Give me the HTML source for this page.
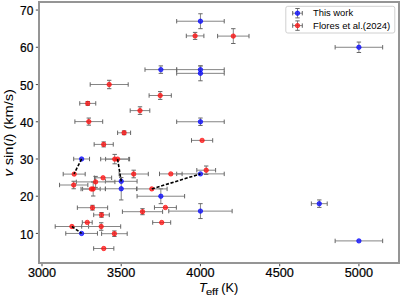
<!DOCTYPE html>
<html><head><meta charset="utf-8"><style>
html,body{margin:0;padding:0;background:#fff;}
svg{display:block;}
text{font-family:"Liberation Sans",sans-serif;fill:#000;stroke:#000;stroke-width:0.22px;}
</style></head><body>
<svg width="400" height="297" viewBox="0 0 400 297" font-size="12.5">
<rect width="400" height="297" fill="#fff"/>
<g>
<line x1="176.68" y1="21.22" x2="224.22" y2="21.22" stroke="#858585" stroke-width="1.0"/>
<line x1="176.68" y1="19.02" x2="176.68" y2="23.42" stroke="#666666" stroke-width="1.0"/>
<line x1="224.22" y1="19.02" x2="224.22" y2="23.42" stroke="#666666" stroke-width="1.0"/>
<line x1="200.45" y1="13.78" x2="200.45" y2="28.67" stroke="#858585" stroke-width="1.0"/>
<line x1="198.25" y1="13.78" x2="202.65" y2="13.78" stroke="#666666" stroke-width="1.0"/>
<line x1="198.25" y1="28.67" x2="202.65" y2="28.67" stroke="#666666" stroke-width="1.0"/>
<line x1="335.13" y1="47.28" x2="382.67" y2="47.28" stroke="#858585" stroke-width="1.0"/>
<line x1="335.13" y1="45.08" x2="335.13" y2="49.48" stroke="#666666" stroke-width="1.0"/>
<line x1="382.67" y1="45.08" x2="382.67" y2="49.48" stroke="#666666" stroke-width="1.0"/>
<line x1="358.9" y1="42.07" x2="358.9" y2="52.5" stroke="#858585" stroke-width="1.0"/>
<line x1="356.7" y1="42.07" x2="361.1" y2="42.07" stroke="#666666" stroke-width="1.0"/>
<line x1="356.7" y1="52.5" x2="361.1" y2="52.5" stroke="#666666" stroke-width="1.0"/>
<line x1="144.99" y1="69.62" x2="176.68" y2="69.62" stroke="#858585" stroke-width="1.0"/>
<line x1="144.99" y1="67.42" x2="144.99" y2="71.82" stroke="#666666" stroke-width="1.0"/>
<line x1="176.68" y1="67.42" x2="176.68" y2="71.82" stroke="#666666" stroke-width="1.0"/>
<line x1="160.84" y1="65.9" x2="160.84" y2="73.35" stroke="#858585" stroke-width="1.0"/>
<line x1="158.64" y1="65.9" x2="163.04" y2="65.9" stroke="#666666" stroke-width="1.0"/>
<line x1="158.64" y1="73.35" x2="163.04" y2="73.35" stroke="#666666" stroke-width="1.0"/>
<line x1="176.68" y1="69.62" x2="224.22" y2="69.62" stroke="#858585" stroke-width="1.0"/>
<line x1="176.68" y1="67.42" x2="176.68" y2="71.82" stroke="#666666" stroke-width="1.0"/>
<line x1="224.22" y1="67.42" x2="224.22" y2="71.82" stroke="#666666" stroke-width="1.0"/>
<line x1="200.45" y1="65.9" x2="200.45" y2="73.35" stroke="#858585" stroke-width="1.0"/>
<line x1="198.25" y1="65.9" x2="202.65" y2="65.9" stroke="#666666" stroke-width="1.0"/>
<line x1="198.25" y1="73.35" x2="202.65" y2="73.35" stroke="#666666" stroke-width="1.0"/>
<line x1="176.68" y1="73.35" x2="224.22" y2="73.35" stroke="#858585" stroke-width="1.0"/>
<line x1="176.68" y1="71.15" x2="176.68" y2="75.55" stroke="#666666" stroke-width="1.0"/>
<line x1="224.22" y1="71.15" x2="224.22" y2="75.55" stroke="#666666" stroke-width="1.0"/>
<line x1="200.45" y1="65.9" x2="200.45" y2="80.79" stroke="#858585" stroke-width="1.0"/>
<line x1="198.25" y1="65.9" x2="202.65" y2="65.9" stroke="#666666" stroke-width="1.0"/>
<line x1="198.25" y1="80.79" x2="202.65" y2="80.79" stroke="#666666" stroke-width="1.0"/>
<line x1="176.68" y1="121.75" x2="224.22" y2="121.75" stroke="#858585" stroke-width="1.0"/>
<line x1="176.68" y1="119.55" x2="176.68" y2="123.95" stroke="#666666" stroke-width="1.0"/>
<line x1="224.22" y1="119.55" x2="224.22" y2="123.95" stroke="#666666" stroke-width="1.0"/>
<line x1="200.45" y1="118.03" x2="200.45" y2="125.47" stroke="#858585" stroke-width="1.0"/>
<line x1="198.25" y1="118.03" x2="202.65" y2="118.03" stroke="#666666" stroke-width="1.0"/>
<line x1="198.25" y1="125.47" x2="202.65" y2="125.47" stroke="#666666" stroke-width="1.0"/>
<line x1="73.69" y1="158.98" x2="89.54" y2="158.98" stroke="#858585" stroke-width="1.0"/>
<line x1="73.69" y1="156.78" x2="73.69" y2="161.18" stroke="#666666" stroke-width="1.0"/>
<line x1="89.54" y1="156.78" x2="89.54" y2="161.18" stroke="#666666" stroke-width="1.0"/>
<line x1="105.38" y1="181.32" x2="137.07" y2="181.32" stroke="#858585" stroke-width="1.0"/>
<line x1="105.38" y1="179.12" x2="105.38" y2="183.52" stroke="#666666" stroke-width="1.0"/>
<line x1="137.07" y1="179.12" x2="137.07" y2="183.52" stroke="#666666" stroke-width="1.0"/>
<line x1="105.38" y1="188.77" x2="137.07" y2="188.77" stroke="#858585" stroke-width="1.0"/>
<line x1="105.38" y1="186.57" x2="105.38" y2="190.97" stroke="#666666" stroke-width="1.0"/>
<line x1="137.07" y1="186.57" x2="137.07" y2="190.97" stroke="#666666" stroke-width="1.0"/>
<line x1="121.23" y1="177.6" x2="121.23" y2="199.94" stroke="#858585" stroke-width="1.0"/>
<line x1="119.03" y1="177.6" x2="123.43" y2="177.6" stroke="#666666" stroke-width="1.0"/>
<line x1="119.03" y1="199.94" x2="123.43" y2="199.94" stroke="#666666" stroke-width="1.0"/>
<line x1="176.68" y1="173.88" x2="224.22" y2="173.88" stroke="#858585" stroke-width="1.0"/>
<line x1="176.68" y1="171.68" x2="176.68" y2="176.08" stroke="#666666" stroke-width="1.0"/>
<line x1="224.22" y1="171.68" x2="224.22" y2="176.08" stroke="#666666" stroke-width="1.0"/>
<line x1="137.07" y1="196.22" x2="184.61" y2="196.22" stroke="#858585" stroke-width="1.0"/>
<line x1="137.07" y1="194.02" x2="137.07" y2="198.42" stroke="#666666" stroke-width="1.0"/>
<line x1="184.61" y1="194.02" x2="184.61" y2="198.42" stroke="#666666" stroke-width="1.0"/>
<line x1="160.84" y1="188.77" x2="160.84" y2="203.66" stroke="#858585" stroke-width="1.0"/>
<line x1="158.64" y1="188.77" x2="163.04" y2="188.77" stroke="#666666" stroke-width="1.0"/>
<line x1="158.64" y1="203.66" x2="163.04" y2="203.66" stroke="#666666" stroke-width="1.0"/>
<line x1="311.37" y1="203.66" x2="327.21" y2="203.66" stroke="#858585" stroke-width="1.0"/>
<line x1="311.37" y1="201.46" x2="311.37" y2="205.86" stroke="#666666" stroke-width="1.0"/>
<line x1="327.21" y1="201.46" x2="327.21" y2="205.86" stroke="#666666" stroke-width="1.0"/>
<line x1="319.29" y1="199.94" x2="319.29" y2="207.39" stroke="#858585" stroke-width="1.0"/>
<line x1="317.09" y1="199.94" x2="321.49" y2="199.94" stroke="#666666" stroke-width="1.0"/>
<line x1="317.09" y1="207.39" x2="321.49" y2="207.39" stroke="#666666" stroke-width="1.0"/>
<line x1="168.76" y1="211.11" x2="232.14" y2="211.11" stroke="#858585" stroke-width="1.0"/>
<line x1="168.76" y1="208.91" x2="168.76" y2="213.31" stroke="#666666" stroke-width="1.0"/>
<line x1="232.14" y1="208.91" x2="232.14" y2="213.31" stroke="#666666" stroke-width="1.0"/>
<line x1="200.45" y1="203.66" x2="200.45" y2="218.56" stroke="#858585" stroke-width="1.0"/>
<line x1="198.25" y1="203.66" x2="202.65" y2="203.66" stroke="#666666" stroke-width="1.0"/>
<line x1="198.25" y1="218.56" x2="202.65" y2="218.56" stroke="#666666" stroke-width="1.0"/>
<line x1="65.77" y1="233.45" x2="97.46" y2="233.45" stroke="#858585" stroke-width="1.0"/>
<line x1="65.77" y1="231.25" x2="65.77" y2="235.65" stroke="#666666" stroke-width="1.0"/>
<line x1="97.46" y1="231.25" x2="97.46" y2="235.65" stroke="#666666" stroke-width="1.0"/>
<line x1="335.13" y1="240.9" x2="382.67" y2="240.9" stroke="#858585" stroke-width="1.0"/>
<line x1="335.13" y1="238.7" x2="335.13" y2="243.1" stroke="#666666" stroke-width="1.0"/>
<line x1="382.67" y1="238.7" x2="382.67" y2="243.1" stroke="#666666" stroke-width="1.0"/>
<circle cx="200.45" cy="21.22" r="2.2" fill="#0a0aff" fill-opacity="0.74" stroke="#0a0aff" stroke-opacity="0.8" stroke-width="0.9"/>
<circle cx="358.9" cy="47.28" r="2.2" fill="#0a0aff" fill-opacity="0.74" stroke="#0a0aff" stroke-opacity="0.8" stroke-width="0.9"/>
<circle cx="160.84" cy="69.62" r="2.2" fill="#0a0aff" fill-opacity="0.74" stroke="#0a0aff" stroke-opacity="0.8" stroke-width="0.9"/>
<circle cx="200.45" cy="69.62" r="2.2" fill="#0a0aff" fill-opacity="0.74" stroke="#0a0aff" stroke-opacity="0.8" stroke-width="0.9"/>
<circle cx="200.45" cy="73.35" r="2.2" fill="#0a0aff" fill-opacity="0.74" stroke="#0a0aff" stroke-opacity="0.8" stroke-width="0.9"/>
<circle cx="200.45" cy="121.75" r="2.2" fill="#0a0aff" fill-opacity="0.74" stroke="#0a0aff" stroke-opacity="0.8" stroke-width="0.9"/>
<circle cx="81.61" cy="158.98" r="2.2" fill="#0a0aff" fill-opacity="0.74" stroke="#0a0aff" stroke-opacity="0.8" stroke-width="0.9"/>
<circle cx="121.23" cy="181.32" r="2.2" fill="#0a0aff" fill-opacity="0.74" stroke="#0a0aff" stroke-opacity="0.8" stroke-width="0.9"/>
<circle cx="121.23" cy="188.77" r="2.2" fill="#0a0aff" fill-opacity="0.74" stroke="#0a0aff" stroke-opacity="0.8" stroke-width="0.9"/>
<circle cx="200.45" cy="173.88" r="2.2" fill="#0a0aff" fill-opacity="0.74" stroke="#0a0aff" stroke-opacity="0.8" stroke-width="0.9"/>
<circle cx="160.84" cy="196.22" r="2.2" fill="#0a0aff" fill-opacity="0.74" stroke="#0a0aff" stroke-opacity="0.8" stroke-width="0.9"/>
<circle cx="319.29" cy="203.66" r="2.2" fill="#0a0aff" fill-opacity="0.74" stroke="#0a0aff" stroke-opacity="0.8" stroke-width="0.9"/>
<circle cx="200.45" cy="211.11" r="2.2" fill="#0a0aff" fill-opacity="0.74" stroke="#0a0aff" stroke-opacity="0.8" stroke-width="0.9"/>
<circle cx="81.61" cy="233.45" r="2.2" fill="#0a0aff" fill-opacity="0.74" stroke="#0a0aff" stroke-opacity="0.8" stroke-width="0.9"/>
<circle cx="358.9" cy="240.9" r="2.2" fill="#0a0aff" fill-opacity="0.74" stroke="#0a0aff" stroke-opacity="0.8" stroke-width="0.9"/>
<line x1="186.3" y1="35.9" x2="203.9" y2="35.9" stroke="#858585" stroke-width="1.0"/>
<line x1="186.3" y1="33.7" x2="186.3" y2="38.1" stroke="#666666" stroke-width="1.0"/>
<line x1="203.9" y1="33.7" x2="203.9" y2="38.1" stroke="#666666" stroke-width="1.0"/>
<line x1="195.1" y1="32.4" x2="195.1" y2="39.4" stroke="#858585" stroke-width="1.0"/>
<line x1="192.9" y1="32.4" x2="197.3" y2="32.4" stroke="#666666" stroke-width="1.0"/>
<line x1="192.9" y1="39.4" x2="197.3" y2="39.4" stroke="#666666" stroke-width="1.0"/>
<line x1="217.6" y1="36.1" x2="249" y2="36.1" stroke="#858585" stroke-width="1.0"/>
<line x1="217.6" y1="33.9" x2="217.6" y2="38.3" stroke="#666666" stroke-width="1.0"/>
<line x1="249" y1="33.9" x2="249" y2="38.3" stroke="#666666" stroke-width="1.0"/>
<line x1="233.3" y1="28.7" x2="233.3" y2="43.5" stroke="#858585" stroke-width="1.0"/>
<line x1="231.1" y1="28.7" x2="235.5" y2="28.7" stroke="#666666" stroke-width="1.0"/>
<line x1="231.1" y1="43.5" x2="235.5" y2="43.5" stroke="#666666" stroke-width="1.0"/>
<line x1="90.2" y1="84.5" x2="128.2" y2="84.5" stroke="#858585" stroke-width="1.0"/>
<line x1="90.2" y1="82.3" x2="90.2" y2="86.7" stroke="#666666" stroke-width="1.0"/>
<line x1="128.2" y1="82.3" x2="128.2" y2="86.7" stroke="#666666" stroke-width="1.0"/>
<line x1="109.2" y1="80.3" x2="109.2" y2="88.7" stroke="#858585" stroke-width="1.0"/>
<line x1="107" y1="80.3" x2="111.4" y2="80.3" stroke="#666666" stroke-width="1.0"/>
<line x1="107" y1="88.7" x2="111.4" y2="88.7" stroke="#666666" stroke-width="1.0"/>
<line x1="149.1" y1="95.5" x2="171.3" y2="95.5" stroke="#858585" stroke-width="1.0"/>
<line x1="149.1" y1="93.3" x2="149.1" y2="97.7" stroke="#666666" stroke-width="1.0"/>
<line x1="171.3" y1="93.3" x2="171.3" y2="97.7" stroke="#666666" stroke-width="1.0"/>
<line x1="160.2" y1="91.6" x2="160.2" y2="99.4" stroke="#858585" stroke-width="1.0"/>
<line x1="158" y1="91.6" x2="162.4" y2="91.6" stroke="#666666" stroke-width="1.0"/>
<line x1="158" y1="99.4" x2="162.4" y2="99.4" stroke="#666666" stroke-width="1.0"/>
<line x1="79.75" y1="103.4" x2="95.75" y2="103.4" stroke="#858585" stroke-width="1.0"/>
<line x1="79.75" y1="101.2" x2="79.75" y2="105.6" stroke="#666666" stroke-width="1.0"/>
<line x1="95.75" y1="101.2" x2="95.75" y2="105.6" stroke="#666666" stroke-width="1.0"/>
<line x1="87.75" y1="101.5" x2="87.75" y2="105.3" stroke="#858585" stroke-width="1.0"/>
<line x1="85.55" y1="101.5" x2="89.95" y2="101.5" stroke="#666666" stroke-width="1.0"/>
<line x1="85.55" y1="105.3" x2="89.95" y2="105.3" stroke="#666666" stroke-width="1.0"/>
<line x1="130.2" y1="110.6" x2="149.8" y2="110.6" stroke="#858585" stroke-width="1.0"/>
<line x1="130.2" y1="108.4" x2="130.2" y2="112.8" stroke="#666666" stroke-width="1.0"/>
<line x1="149.8" y1="108.4" x2="149.8" y2="112.8" stroke="#666666" stroke-width="1.0"/>
<line x1="140" y1="106.8" x2="140" y2="114.4" stroke="#858585" stroke-width="1.0"/>
<line x1="137.8" y1="106.8" x2="142.2" y2="106.8" stroke="#666666" stroke-width="1.0"/>
<line x1="137.8" y1="114.4" x2="142.2" y2="114.4" stroke="#666666" stroke-width="1.0"/>
<line x1="74.9" y1="121.6" x2="102.7" y2="121.6" stroke="#858585" stroke-width="1.0"/>
<line x1="74.9" y1="119.4" x2="74.9" y2="123.8" stroke="#666666" stroke-width="1.0"/>
<line x1="102.7" y1="119.4" x2="102.7" y2="123.8" stroke="#666666" stroke-width="1.0"/>
<line x1="88.8" y1="118.05" x2="88.8" y2="125.15" stroke="#858585" stroke-width="1.0"/>
<line x1="86.6" y1="118.05" x2="91" y2="118.05" stroke="#666666" stroke-width="1.0"/>
<line x1="86.6" y1="125.15" x2="91" y2="125.15" stroke="#666666" stroke-width="1.0"/>
<line x1="117.6" y1="132.8" x2="130.6" y2="132.8" stroke="#858585" stroke-width="1.0"/>
<line x1="117.6" y1="130.6" x2="117.6" y2="135" stroke="#666666" stroke-width="1.0"/>
<line x1="130.6" y1="130.6" x2="130.6" y2="135" stroke="#666666" stroke-width="1.0"/>
<line x1="124.1" y1="130.9" x2="124.1" y2="134.7" stroke="#858585" stroke-width="1.0"/>
<line x1="121.9" y1="130.9" x2="126.3" y2="130.9" stroke="#666666" stroke-width="1.0"/>
<line x1="121.9" y1="134.7" x2="126.3" y2="134.7" stroke="#666666" stroke-width="1.0"/>
<line x1="191.5" y1="140.4" x2="212.7" y2="140.4" stroke="#858585" stroke-width="1.0"/>
<line x1="191.5" y1="138.2" x2="191.5" y2="142.6" stroke="#666666" stroke-width="1.0"/>
<line x1="212.7" y1="138.2" x2="212.7" y2="142.6" stroke="#666666" stroke-width="1.0"/>
<line x1="94.15" y1="144.4" x2="113.25" y2="144.4" stroke="#858585" stroke-width="1.0"/>
<line x1="94.15" y1="142.2" x2="94.15" y2="146.6" stroke="#666666" stroke-width="1.0"/>
<line x1="113.25" y1="142.2" x2="113.25" y2="146.6" stroke="#666666" stroke-width="1.0"/>
<line x1="103.7" y1="141.9" x2="103.7" y2="146.9" stroke="#858585" stroke-width="1.0"/>
<line x1="101.5" y1="141.9" x2="105.9" y2="141.9" stroke="#666666" stroke-width="1.0"/>
<line x1="101.5" y1="146.9" x2="105.9" y2="146.9" stroke="#666666" stroke-width="1.0"/>
<line x1="100.7" y1="159.1" x2="128.7" y2="159.1" stroke="#858585" stroke-width="1.0"/>
<line x1="100.7" y1="156.9" x2="100.7" y2="161.3" stroke="#666666" stroke-width="1.0"/>
<line x1="128.7" y1="156.9" x2="128.7" y2="161.3" stroke="#666666" stroke-width="1.0"/>
<line x1="114.7" y1="154.4" x2="114.7" y2="163.8" stroke="#858585" stroke-width="1.0"/>
<line x1="112.5" y1="154.4" x2="116.9" y2="154.4" stroke="#666666" stroke-width="1.0"/>
<line x1="112.5" y1="163.8" x2="116.9" y2="163.8" stroke="#666666" stroke-width="1.0"/>
<line x1="105.6" y1="159.1" x2="129.6" y2="159.1" stroke="#858585" stroke-width="1.0"/>
<line x1="105.6" y1="156.9" x2="105.6" y2="161.3" stroke="#666666" stroke-width="1.0"/>
<line x1="129.6" y1="156.9" x2="129.6" y2="161.3" stroke="#666666" stroke-width="1.0"/>
<line x1="63.2" y1="174.1" x2="85.2" y2="174.1" stroke="#858585" stroke-width="1.0"/>
<line x1="63.2" y1="171.9" x2="63.2" y2="176.3" stroke="#666666" stroke-width="1.0"/>
<line x1="85.2" y1="171.9" x2="85.2" y2="176.3" stroke="#666666" stroke-width="1.0"/>
<line x1="119.1" y1="174" x2="148.3" y2="174" stroke="#858585" stroke-width="1.0"/>
<line x1="119.1" y1="171.8" x2="119.1" y2="176.2" stroke="#666666" stroke-width="1.0"/>
<line x1="148.3" y1="171.8" x2="148.3" y2="176.2" stroke="#666666" stroke-width="1.0"/>
<line x1="133.7" y1="170.2" x2="133.7" y2="177.8" stroke="#858585" stroke-width="1.0"/>
<line x1="131.5" y1="170.2" x2="135.9" y2="170.2" stroke="#666666" stroke-width="1.0"/>
<line x1="131.5" y1="177.8" x2="135.9" y2="177.8" stroke="#666666" stroke-width="1.0"/>
<line x1="159.5" y1="173.9" x2="182.1" y2="173.9" stroke="#858585" stroke-width="1.0"/>
<line x1="159.5" y1="171.7" x2="159.5" y2="176.1" stroke="#666666" stroke-width="1.0"/>
<line x1="182.1" y1="171.7" x2="182.1" y2="176.1" stroke="#666666" stroke-width="1.0"/>
<line x1="196.8" y1="170.2" x2="215.6" y2="170.2" stroke="#858585" stroke-width="1.0"/>
<line x1="196.8" y1="168" x2="196.8" y2="172.4" stroke="#666666" stroke-width="1.0"/>
<line x1="215.6" y1="168" x2="215.6" y2="172.4" stroke="#666666" stroke-width="1.0"/>
<line x1="206.2" y1="166" x2="206.2" y2="174.4" stroke="#858585" stroke-width="1.0"/>
<line x1="204" y1="166" x2="208.4" y2="166" stroke="#666666" stroke-width="1.0"/>
<line x1="204" y1="174.4" x2="208.4" y2="174.4" stroke="#666666" stroke-width="1.0"/>
<line x1="94.45" y1="177.8" x2="111.65" y2="177.8" stroke="#858585" stroke-width="1.0"/>
<line x1="94.45" y1="175.6" x2="94.45" y2="180" stroke="#666666" stroke-width="1.0"/>
<line x1="111.65" y1="175.6" x2="111.65" y2="180" stroke="#666666" stroke-width="1.0"/>
<line x1="76.3" y1="181.9" x2="114.9" y2="181.9" stroke="#858585" stroke-width="1.0"/>
<line x1="76.3" y1="179.7" x2="76.3" y2="184.1" stroke="#666666" stroke-width="1.0"/>
<line x1="114.9" y1="179.7" x2="114.9" y2="184.1" stroke="#666666" stroke-width="1.0"/>
<line x1="95.6" y1="176.4" x2="95.6" y2="187.4" stroke="#858585" stroke-width="1.0"/>
<line x1="93.4" y1="176.4" x2="97.8" y2="176.4" stroke="#666666" stroke-width="1.0"/>
<line x1="93.4" y1="187.4" x2="97.8" y2="187.4" stroke="#666666" stroke-width="1.0"/>
<line x1="59.55" y1="185" x2="87.85" y2="185" stroke="#858585" stroke-width="1.0"/>
<line x1="59.55" y1="182.8" x2="59.55" y2="187.2" stroke="#666666" stroke-width="1.0"/>
<line x1="87.85" y1="182.8" x2="87.85" y2="187.2" stroke="#666666" stroke-width="1.0"/>
<line x1="73.7" y1="181.25" x2="73.7" y2="188.75" stroke="#858585" stroke-width="1.0"/>
<line x1="71.5" y1="181.25" x2="75.9" y2="181.25" stroke="#666666" stroke-width="1.0"/>
<line x1="71.5" y1="188.75" x2="75.9" y2="188.75" stroke="#666666" stroke-width="1.0"/>
<line x1="82.6" y1="189" x2="100.2" y2="189" stroke="#858585" stroke-width="1.0"/>
<line x1="82.6" y1="186.8" x2="82.6" y2="191.2" stroke="#666666" stroke-width="1.0"/>
<line x1="100.2" y1="186.8" x2="100.2" y2="191.2" stroke="#666666" stroke-width="1.0"/>
<line x1="81" y1="189" x2="105.4" y2="189" stroke="#858585" stroke-width="1.0"/>
<line x1="81" y1="186.8" x2="81" y2="191.2" stroke="#666666" stroke-width="1.0"/>
<line x1="105.4" y1="186.8" x2="105.4" y2="191.2" stroke="#666666" stroke-width="1.0"/>
<line x1="93.2" y1="182" x2="93.2" y2="196" stroke="#858585" stroke-width="1.0"/>
<line x1="91" y1="182" x2="95.4" y2="182" stroke="#666666" stroke-width="1.0"/>
<line x1="91" y1="196" x2="95.4" y2="196" stroke="#666666" stroke-width="1.0"/>
<line x1="136.5" y1="188.9" x2="167.1" y2="188.9" stroke="#858585" stroke-width="1.0"/>
<line x1="136.5" y1="186.7" x2="136.5" y2="191.1" stroke="#666666" stroke-width="1.0"/>
<line x1="167.1" y1="186.7" x2="167.1" y2="191.1" stroke="#666666" stroke-width="1.0"/>
<line x1="77.35" y1="207.7" x2="107.65" y2="207.7" stroke="#858585" stroke-width="1.0"/>
<line x1="77.35" y1="205.5" x2="77.35" y2="209.9" stroke="#666666" stroke-width="1.0"/>
<line x1="107.65" y1="205.5" x2="107.65" y2="209.9" stroke="#666666" stroke-width="1.0"/>
<line x1="92.5" y1="205.3" x2="92.5" y2="210.1" stroke="#858585" stroke-width="1.0"/>
<line x1="90.3" y1="205.3" x2="94.7" y2="205.3" stroke="#666666" stroke-width="1.0"/>
<line x1="90.3" y1="210.1" x2="94.7" y2="210.1" stroke="#666666" stroke-width="1.0"/>
<line x1="154.45" y1="207.5" x2="176.35" y2="207.5" stroke="#858585" stroke-width="1.0"/>
<line x1="154.45" y1="205.3" x2="154.45" y2="209.7" stroke="#666666" stroke-width="1.0"/>
<line x1="176.35" y1="205.3" x2="176.35" y2="209.7" stroke="#666666" stroke-width="1.0"/>
<line x1="93.7" y1="214.9" x2="109.3" y2="214.9" stroke="#858585" stroke-width="1.0"/>
<line x1="93.7" y1="212.7" x2="93.7" y2="217.1" stroke="#666666" stroke-width="1.0"/>
<line x1="109.3" y1="212.7" x2="109.3" y2="217.1" stroke="#666666" stroke-width="1.0"/>
<line x1="101.5" y1="212.5" x2="101.5" y2="217.3" stroke="#858585" stroke-width="1.0"/>
<line x1="99.3" y1="212.5" x2="103.7" y2="212.5" stroke="#666666" stroke-width="1.0"/>
<line x1="99.3" y1="217.3" x2="103.7" y2="217.3" stroke="#666666" stroke-width="1.0"/>
<line x1="122.4" y1="211.7" x2="162.6" y2="211.7" stroke="#858585" stroke-width="1.0"/>
<line x1="122.4" y1="209.5" x2="122.4" y2="213.9" stroke="#666666" stroke-width="1.0"/>
<line x1="162.6" y1="209.5" x2="162.6" y2="213.9" stroke="#666666" stroke-width="1.0"/>
<line x1="142.5" y1="208.7" x2="142.5" y2="214.7" stroke="#858585" stroke-width="1.0"/>
<line x1="140.3" y1="208.7" x2="144.7" y2="208.7" stroke="#666666" stroke-width="1.0"/>
<line x1="140.3" y1="214.7" x2="144.7" y2="214.7" stroke="#666666" stroke-width="1.0"/>
<line x1="82.3" y1="222.4" x2="92.2" y2="222.4" stroke="#858585" stroke-width="1.0"/>
<line x1="82.3" y1="220.2" x2="82.3" y2="224.6" stroke="#666666" stroke-width="1.0"/>
<line x1="92.2" y1="220.2" x2="92.2" y2="224.6" stroke="#666666" stroke-width="1.0"/>
<line x1="152.7" y1="222.5" x2="170.7" y2="222.5" stroke="#858585" stroke-width="1.0"/>
<line x1="152.7" y1="220.3" x2="152.7" y2="224.7" stroke="#666666" stroke-width="1.0"/>
<line x1="170.7" y1="220.3" x2="170.7" y2="224.7" stroke="#666666" stroke-width="1.0"/>
<line x1="55.2" y1="226.5" x2="88.6" y2="226.5" stroke="#858585" stroke-width="1.0"/>
<line x1="55.2" y1="224.3" x2="55.2" y2="228.7" stroke="#666666" stroke-width="1.0"/>
<line x1="88.6" y1="224.3" x2="88.6" y2="228.7" stroke="#666666" stroke-width="1.0"/>
<line x1="81.7" y1="226.5" x2="120.7" y2="226.5" stroke="#858585" stroke-width="1.0"/>
<line x1="81.7" y1="224.3" x2="81.7" y2="228.7" stroke="#666666" stroke-width="1.0"/>
<line x1="120.7" y1="224.3" x2="120.7" y2="228.7" stroke="#666666" stroke-width="1.0"/>
<line x1="101.2" y1="222.75" x2="101.2" y2="230.25" stroke="#858585" stroke-width="1.0"/>
<line x1="99" y1="222.75" x2="103.4" y2="222.75" stroke="#666666" stroke-width="1.0"/>
<line x1="99" y1="230.25" x2="103.4" y2="230.25" stroke="#666666" stroke-width="1.0"/>
<line x1="101.6" y1="233.7" x2="127.2" y2="233.7" stroke="#858585" stroke-width="1.0"/>
<line x1="101.6" y1="231.5" x2="101.6" y2="235.9" stroke="#666666" stroke-width="1.0"/>
<line x1="127.2" y1="231.5" x2="127.2" y2="235.9" stroke="#666666" stroke-width="1.0"/>
<line x1="114.4" y1="230.95" x2="114.4" y2="236.45" stroke="#858585" stroke-width="1.0"/>
<line x1="112.2" y1="230.95" x2="116.6" y2="230.95" stroke="#666666" stroke-width="1.0"/>
<line x1="112.2" y1="236.45" x2="116.6" y2="236.45" stroke="#666666" stroke-width="1.0"/>
<line x1="93.65" y1="248.5" x2="113.85" y2="248.5" stroke="#858585" stroke-width="1.0"/>
<line x1="93.65" y1="246.3" x2="93.65" y2="250.7" stroke="#666666" stroke-width="1.0"/>
<line x1="113.85" y1="246.3" x2="113.85" y2="250.7" stroke="#666666" stroke-width="1.0"/>
<circle cx="195.1" cy="35.9" r="2.2" fill="#ff1010" fill-opacity="0.74" stroke="#ff1010" stroke-opacity="0.8" stroke-width="0.9"/>
<circle cx="233.3" cy="36.1" r="2.2" fill="#ff1010" fill-opacity="0.74" stroke="#ff1010" stroke-opacity="0.8" stroke-width="0.9"/>
<circle cx="109.2" cy="84.5" r="2.2" fill="#ff1010" fill-opacity="0.74" stroke="#ff1010" stroke-opacity="0.8" stroke-width="0.9"/>
<circle cx="160.2" cy="95.5" r="2.2" fill="#ff1010" fill-opacity="0.74" stroke="#ff1010" stroke-opacity="0.8" stroke-width="0.9"/>
<circle cx="87.75" cy="103.4" r="2.2" fill="#ff1010" fill-opacity="0.74" stroke="#ff1010" stroke-opacity="0.8" stroke-width="0.9"/>
<circle cx="140" cy="110.6" r="2.2" fill="#ff1010" fill-opacity="0.74" stroke="#ff1010" stroke-opacity="0.8" stroke-width="0.9"/>
<circle cx="88.8" cy="121.6" r="2.2" fill="#ff1010" fill-opacity="0.74" stroke="#ff1010" stroke-opacity="0.8" stroke-width="0.9"/>
<circle cx="124.1" cy="132.8" r="2.2" fill="#ff1010" fill-opacity="0.74" stroke="#ff1010" stroke-opacity="0.8" stroke-width="0.9"/>
<circle cx="202.1" cy="140.4" r="2.2" fill="#ff1010" fill-opacity="0.74" stroke="#ff1010" stroke-opacity="0.8" stroke-width="0.9"/>
<circle cx="103.7" cy="144.4" r="2.2" fill="#ff1010" fill-opacity="0.74" stroke="#ff1010" stroke-opacity="0.8" stroke-width="0.9"/>
<circle cx="114.7" cy="159.1" r="2.2" fill="#ff1010" fill-opacity="0.74" stroke="#ff1010" stroke-opacity="0.8" stroke-width="0.9"/>
<circle cx="117.6" cy="159.1" r="2.2" fill="#ff1010" fill-opacity="0.74" stroke="#ff1010" stroke-opacity="0.8" stroke-width="0.9"/>
<circle cx="74.2" cy="174.1" r="2.2" fill="#ff1010" fill-opacity="0.74" stroke="#ff1010" stroke-opacity="0.8" stroke-width="0.9"/>
<circle cx="133.7" cy="174" r="2.2" fill="#ff1010" fill-opacity="0.74" stroke="#ff1010" stroke-opacity="0.8" stroke-width="0.9"/>
<circle cx="170.8" cy="173.9" r="2.2" fill="#ff1010" fill-opacity="0.74" stroke="#ff1010" stroke-opacity="0.8" stroke-width="0.9"/>
<circle cx="206.2" cy="170.2" r="2.2" fill="#ff1010" fill-opacity="0.74" stroke="#ff1010" stroke-opacity="0.8" stroke-width="0.9"/>
<circle cx="103.05" cy="177.8" r="2.2" fill="#ff1010" fill-opacity="0.74" stroke="#ff1010" stroke-opacity="0.8" stroke-width="0.9"/>
<circle cx="95.6" cy="181.9" r="2.2" fill="#ff1010" fill-opacity="0.74" stroke="#ff1010" stroke-opacity="0.8" stroke-width="0.9"/>
<circle cx="73.7" cy="185" r="2.2" fill="#ff1010" fill-opacity="0.74" stroke="#ff1010" stroke-opacity="0.8" stroke-width="0.9"/>
<circle cx="91.4" cy="189" r="2.2" fill="#ff1010" fill-opacity="0.74" stroke="#ff1010" stroke-opacity="0.8" stroke-width="0.9"/>
<circle cx="93.2" cy="189" r="2.2" fill="#ff1010" fill-opacity="0.74" stroke="#ff1010" stroke-opacity="0.8" stroke-width="0.9"/>
<circle cx="151.8" cy="188.9" r="2.2" fill="#ff1010" fill-opacity="0.74" stroke="#ff1010" stroke-opacity="0.8" stroke-width="0.9"/>
<circle cx="92.5" cy="207.7" r="2.2" fill="#ff1010" fill-opacity="0.74" stroke="#ff1010" stroke-opacity="0.8" stroke-width="0.9"/>
<circle cx="165.4" cy="207.5" r="2.2" fill="#ff1010" fill-opacity="0.74" stroke="#ff1010" stroke-opacity="0.8" stroke-width="0.9"/>
<circle cx="101.5" cy="214.9" r="2.2" fill="#ff1010" fill-opacity="0.74" stroke="#ff1010" stroke-opacity="0.8" stroke-width="0.9"/>
<circle cx="142.5" cy="211.7" r="2.2" fill="#ff1010" fill-opacity="0.74" stroke="#ff1010" stroke-opacity="0.8" stroke-width="0.9"/>
<circle cx="87.25" cy="222.4" r="2.2" fill="#ff1010" fill-opacity="0.74" stroke="#ff1010" stroke-opacity="0.8" stroke-width="0.9"/>
<circle cx="161.7" cy="222.5" r="2.2" fill="#ff1010" fill-opacity="0.74" stroke="#ff1010" stroke-opacity="0.8" stroke-width="0.9"/>
<circle cx="71.9" cy="226.5" r="2.2" fill="#ff1010" fill-opacity="0.74" stroke="#ff1010" stroke-opacity="0.8" stroke-width="0.9"/>
<circle cx="101.2" cy="226.5" r="2.2" fill="#ff1010" fill-opacity="0.74" stroke="#ff1010" stroke-opacity="0.8" stroke-width="0.9"/>
<circle cx="114.4" cy="233.7" r="2.2" fill="#ff1010" fill-opacity="0.74" stroke="#ff1010" stroke-opacity="0.8" stroke-width="0.9"/>
<circle cx="103.75" cy="248.5" r="2.2" fill="#ff1010" fill-opacity="0.74" stroke="#ff1010" stroke-opacity="0.8" stroke-width="0.9"/>
<line x1="81.61" y1="158.98" x2="74" y2="173.9" stroke="#000" stroke-width="1.6" stroke-dasharray="3.2 1.7"/>
<line x1="117.6" y1="159.1" x2="121.23" y2="181.32" stroke="#000" stroke-width="1.6" stroke-dasharray="3.2 1.7"/>
<line x1="151.8" y1="188.9" x2="200.45" y2="173.88" stroke="#000" stroke-width="1.6" stroke-dasharray="3.2 1.7"/>
<line x1="71.9" y1="226.5" x2="81.61" y2="233.45" stroke="#000" stroke-width="1.6" stroke-dasharray="3.2 1.7"/>
</g>
<rect x="39.0" y="2.0" width="360" height="261" fill="none" stroke="#959595" stroke-width="2"/>
<line x1="42" y1="264.0" x2="42" y2="266.2" stroke="#555" stroke-width="1.1"/>
<text x="42" y="277.2" text-anchor="middle" textLength="28.2" lengthAdjust="spacingAndGlyphs">3000</text>
<line x1="121.23" y1="264.0" x2="121.23" y2="266.2" stroke="#555" stroke-width="1.1"/>
<text x="121.23" y="277.2" text-anchor="middle" textLength="28.2" lengthAdjust="spacingAndGlyphs">3500</text>
<line x1="200.45" y1="264.0" x2="200.45" y2="266.2" stroke="#555" stroke-width="1.1"/>
<text x="200.45" y="277.2" text-anchor="middle" textLength="28.2" lengthAdjust="spacingAndGlyphs">4000</text>
<line x1="279.68" y1="264.0" x2="279.68" y2="266.2" stroke="#555" stroke-width="1.1"/>
<text x="279.68" y="277.2" text-anchor="middle" textLength="28.2" lengthAdjust="spacingAndGlyphs">4500</text>
<line x1="358.9" y1="264.0" x2="358.9" y2="266.2" stroke="#555" stroke-width="1.1"/>
<text x="358.9" y="277.2" text-anchor="middle" textLength="28.2" lengthAdjust="spacingAndGlyphs">5000</text>
<line x1="35.8" y1="233.45" x2="38.0" y2="233.45" stroke="#555" stroke-width="1.1"/>
<text x="33.3" y="238.65" text-anchor="end" textLength="13.3" lengthAdjust="spacingAndGlyphs">10</text>
<line x1="35.8" y1="196.22" x2="38.0" y2="196.22" stroke="#555" stroke-width="1.1"/>
<text x="33.3" y="201.42" text-anchor="end" textLength="13.3" lengthAdjust="spacingAndGlyphs">20</text>
<line x1="35.8" y1="158.98" x2="38.0" y2="158.98" stroke="#555" stroke-width="1.1"/>
<text x="33.3" y="164.18" text-anchor="end" textLength="13.3" lengthAdjust="spacingAndGlyphs">30</text>
<line x1="35.8" y1="121.75" x2="38.0" y2="121.75" stroke="#555" stroke-width="1.1"/>
<text x="33.3" y="126.95" text-anchor="end" textLength="13.3" lengthAdjust="spacingAndGlyphs">40</text>
<line x1="35.8" y1="84.52" x2="38.0" y2="84.52" stroke="#555" stroke-width="1.1"/>
<text x="33.3" y="89.72" text-anchor="end" textLength="13.3" lengthAdjust="spacingAndGlyphs">50</text>
<line x1="35.8" y1="47.28" x2="38.0" y2="47.28" stroke="#555" stroke-width="1.1"/>
<text x="33.3" y="52.48" text-anchor="end" textLength="13.3" lengthAdjust="spacingAndGlyphs">60</text>
<line x1="35.8" y1="10.05" x2="38.0" y2="10.05" stroke="#555" stroke-width="1.1"/>
<text x="33.3" y="15.25" text-anchor="end" textLength="13.3" lengthAdjust="spacingAndGlyphs">70</text>

<rect x="285.8" y="6.3" width="109.0" height="26.7" rx="2" ry="2" fill="#fff" fill-opacity="0.8" stroke="#d0d0d0" stroke-width="1"/>
<line x1="292.7" y1="13.2" x2="302.3" y2="13.2" stroke="#858585" stroke-width="1.0"/>
<line x1="292.7" y1="11" x2="292.7" y2="15.4" stroke="#666666" stroke-width="1.0"/>
<line x1="302.3" y1="11" x2="302.3" y2="15.4" stroke="#666666" stroke-width="1.0"/>
<line x1="297.5" y1="8.5" x2="297.5" y2="17.9" stroke="#858585" stroke-width="1.0"/>
<line x1="295.3" y1="8.5" x2="299.7" y2="8.5" stroke="#666666" stroke-width="1.0"/>
<line x1="295.3" y1="17.9" x2="299.7" y2="17.9" stroke="#666666" stroke-width="1.0"/>
<circle cx="297.5" cy="13.2" r="2.2" fill="#0a0aff" fill-opacity="0.74" stroke="#0a0aff" stroke-opacity="0.8" stroke-width="0.9"/>
<line x1="292.7" y1="25.6" x2="302.3" y2="25.6" stroke="#858585" stroke-width="1.0"/>
<line x1="292.7" y1="23.4" x2="292.7" y2="27.8" stroke="#666666" stroke-width="1.0"/>
<line x1="302.3" y1="23.4" x2="302.3" y2="27.8" stroke="#666666" stroke-width="1.0"/>
<line x1="297.5" y1="20.9" x2="297.5" y2="30.3" stroke="#858585" stroke-width="1.0"/>
<line x1="295.3" y1="20.9" x2="299.7" y2="20.9" stroke="#666666" stroke-width="1.0"/>
<line x1="295.3" y1="30.3" x2="299.7" y2="30.3" stroke="#666666" stroke-width="1.0"/>
<circle cx="297.5" cy="25.6" r="2.2" fill="#ff1010" fill-opacity="0.74" stroke="#ff1010" stroke-opacity="0.8" stroke-width="0.9"/>
<text x="313.1" y="16.4" font-size="8.7" style="stroke:none" textLength="40" lengthAdjust="spacingAndGlyphs">This work</text>
<text x="313.1" y="29.4" font-size="8.7" style="stroke:none" textLength="77.2" lengthAdjust="spacingAndGlyphs">Flores et al.(2024)</text>


<text x="198.9" y="291.6" font-size="12.6" font-style="italic" style="stroke-width:0.1px">T</text>
<text x="205.9" y="294.5" font-size="8.7" style="stroke-width:0.12px" textLength="12.2" lengthAdjust="spacingAndGlyphs">eff</text>
<text x="221.3" y="292.0" font-size="12.6" style="stroke-width:0.08px" textLength="16.9" lengthAdjust="spacingAndGlyphs">(K)</text>
<g transform="translate(13.1,176.6) rotate(-90)">
<text x="0" y="0" font-size="12.2" style="stroke:none" textLength="87.6" lengthAdjust="spacingAndGlyphs"><tspan font-style="italic">v</tspan> sin(<tspan font-style="italic">i</tspan>) (km/s)</text>
</g>

</svg>
</body></html>
